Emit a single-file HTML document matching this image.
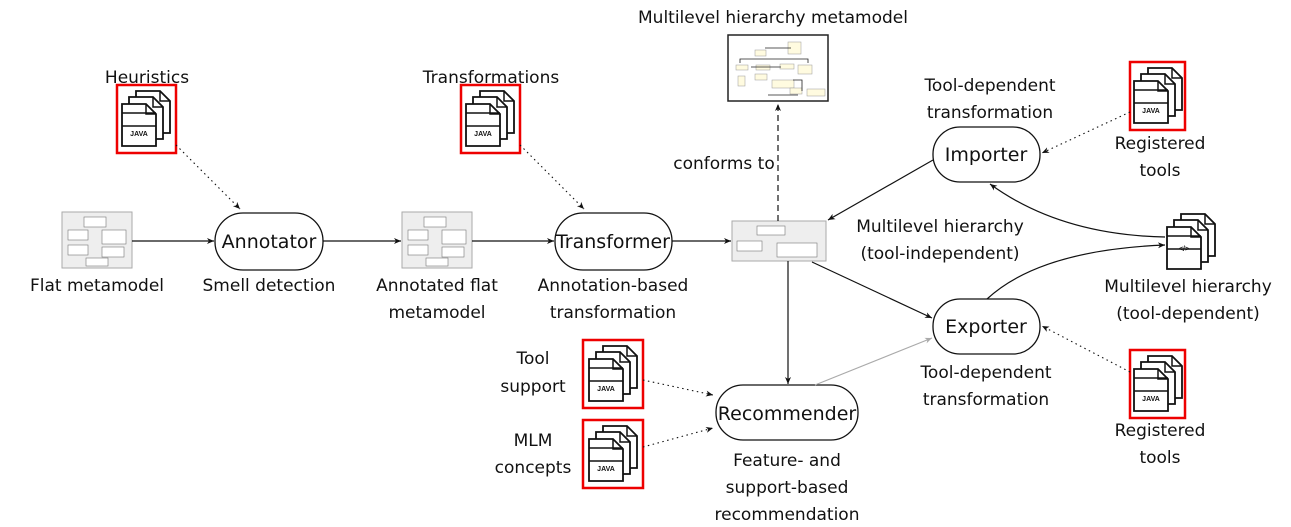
<!DOCTYPE html>
<html><head><meta charset="utf-8"><style>
html,body{margin:0;padding:0;background:#fff}
svg{display:block}
text{font-family:"DejaVu Sans","Liberation Sans",sans-serif;font-size:17px;fill:#111;text-anchor:middle}
.s{font-size:7px;font-weight:bold;font-family:"Liberation Sans",sans-serif}
</style></head><body>
<svg width="1291" height="527" viewBox="0 0 1291 527" xmlns="http://www.w3.org/2000/svg">
<defs>
<g id="pg"><path d="M0,0 H24 L34,10 V42 H0 Z" fill="#fff" stroke="#111" stroke-width="1.8"/><path d="M24,0 V10 H34" fill="none" stroke="#111" stroke-width="1.5"/></g>
<g id="stack"><use href="#pg" x="14" y="0"/><use href="#pg" x="7" y="6"/><use href="#pg" x="0" y="13"/>
<line x1="0" y1="35" x2="34" y2="35" stroke="#111" stroke-width="1.5"/><line x1="0" y1="22" x2="34" y2="22" stroke="#111" stroke-width="1.5"/></g>
<marker id="a" markerWidth="8" markerHeight="8" refX="7" refY="4" orient="auto" markerUnits="userSpaceOnUse"><path d="M0,1 L7,4 L0,7 L2,4Z" fill="#111"/></marker>
<marker id="ag" markerWidth="8" markerHeight="8" refX="7" refY="4" orient="auto" markerUnits="userSpaceOnUse"><path d="M0,1 L7,4 L0,7 L2,4Z" fill="#aaa"/></marker>
<g id="uml"><rect width="70" height="56" fill="#eee" stroke="#aaa"/><g fill="#fff" stroke="#777" stroke-width="0.6"><rect x="22" y="5" width="22" height="10"/><rect x="6" y="18" width="20" height="10"/><rect x="40" y="18" width="24" height="14"/><rect x="6" y="33" width="20" height="10"/><rect x="40" y="35" width="22" height="10"/><rect x="24" y="46" width="22" height="8"/></g></g>
</defs>

<!-- labels top -->
<text x="147" y="83">Heuristics</text>
<text x="491" y="83">Transformations</text>
<text x="773" y="23">Multilevel hierarchy metamodel</text>

<!-- java icons -->
<g transform="translate(117,85)"><rect x="0" y="0" width="59" height="68" fill="none" stroke="#e00" stroke-width="2.5"/><g transform="translate(5,6)"><use href="#stack"/><text class="s" x="17" y="45">JAVA</text></g></g>
<g transform="translate(461,85)"><rect x="0" y="0" width="59" height="68" fill="none" stroke="#e00" stroke-width="2.5"/><g transform="translate(5,6)"><use href="#stack"/><text class="s" x="17" y="45">JAVA</text></g></g>
<g transform="translate(1130,62)"><rect x="0" y="0" width="55" height="68" fill="none" stroke="#e00" stroke-width="2.5"/><g transform="translate(4,6)"><use href="#stack"/><text class="s" x="17" y="45">JAVA</text></g></g>
<g transform="translate(1130,350)"><rect x="0" y="0" width="55" height="68" fill="none" stroke="#e00" stroke-width="2.5"/><g transform="translate(4,6)"><use href="#stack"/><text class="s" x="17" y="45">JAVA</text></g></g>
<g transform="translate(583,340)"><rect x="0" y="0" width="60" height="68" fill="none" stroke="#e00" stroke-width="2.5"/><g transform="translate(6,6)"><use href="#stack"/><text class="s" x="17" y="45">JAVA</text></g></g>
<g transform="translate(583,420)"><rect x="0" y="0" width="60" height="68" fill="none" stroke="#e00" stroke-width="2.5"/><g transform="translate(6,6)"><use href="#stack"/><text class="s" x="17" y="45">JAVA</text></g></g>
<g transform="translate(1167,214)"><use href="#stack"/><text class="s" x="17" y="37">&lt;/&gt;</text></g>

<!-- images -->
<use href="#uml" x="62" y="212"/>
<use href="#uml" x="402" y="212"/>
<g transform="translate(732,221)"><rect width="94" height="40" fill="#eee" stroke="#aaa"/><g fill="#fff" stroke="#777" stroke-width="0.6"><rect x="25" y="5" width="28" height="9"/><rect x="5" y="20" width="25" height="10"/><rect x="45" y="22" width="40" height="14"/></g></g>
<g transform="translate(728,35)"><rect width="100" height="66" fill="#fff" stroke="#222" stroke-width="1.5"/><g fill="#fffbe0" stroke="#999" stroke-width="0.5"><rect x="60" y="7" width="13" height="12"/><rect x="27" y="15" width="11" height="6"/><rect x="8" y="30" width="12" height="5"/><rect x="28" y="30" width="14" height="5"/><rect x="52" y="29" width="14" height="5"/><rect x="70" y="30" width="14" height="9"/><rect x="27" y="39" width="12" height="6"/><rect x="44" y="45" width="22" height="8"/><rect x="62" y="53" width="12" height="6"/><rect x="79" y="54" width="18" height="7"/><rect x="10" y="41" width="7" height="10"/></g><g stroke="#222" stroke-width="0.8" fill="none"><path d="M12,28 V24 H80 V28 M37,13 H63 M23,32 H53 M65,45 H74 V56 M40,60 H70"/></g></g>

<!-- pills -->
<rect x="215" y="213" width="108" height="57" rx="28" fill="#fff" stroke="#111" stroke-width="1.3"/>
<text x="269" y="248" style="font-size:19px">Annotator</text>
<rect x="555" y="213" width="117" height="57" rx="28" fill="#fff" stroke="#111" stroke-width="1.3"/>
<text x="613" y="248" style="font-size:19px">Transformer</text>
<rect x="933" y="127" width="107" height="55" rx="27" fill="#fff" stroke="#111" stroke-width="1.3"/>
<text x="986" y="161" style="font-size:19px">Importer</text>
<rect x="933" y="299" width="107" height="55" rx="27" fill="#fff" stroke="#111" stroke-width="1.3"/>
<text x="986" y="333" style="font-size:19px">Exporter</text>
<rect x="716" y="385" width="142" height="55" rx="27" fill="#fff" stroke="#111" stroke-width="1.3"/>
<text x="787" y="420" style="font-size:19px">Recommender</text>

<!-- text labels -->
<text x="97" y="291">Flat metamodel</text>
<text x="269" y="291">Smell detection</text>
<text x="437" y="291">Annotated flat</text>
<text x="437" y="318">metamodel</text>
<text x="613" y="291">Annotation-based</text>
<text x="613" y="318">transformation</text>
<text x="724" y="169">conforms to</text>
<text x="990" y="91">Tool-dependent</text>
<text x="990" y="118">transformation</text>
<text x="1160" y="149">Registered</text>
<text x="1160" y="176">tools</text>
<text x="940" y="232">Multilevel hierarchy</text>
<text x="940" y="259">(tool-independent)</text>
<text x="1188" y="292">Multilevel hierarchy</text>
<text x="1188" y="319">(tool-dependent)</text>
<text x="986" y="378">Tool-dependent</text>
<text x="986" y="405">transformation</text>
<text x="1160" y="436">Registered</text>
<text x="1160" y="463">tools</text>
<text x="533" y="364">Tool</text>
<text x="533" y="392">support</text>
<text x="533" y="446">MLM</text>
<text x="533" y="473">concepts</text>
<text x="787" y="466">Feature- and</text>
<text x="787" y="493">support-based</text>
<text x="787" y="520">recommendation</text>

<!-- connectors -->
<g stroke="#111" stroke-width="1.2" fill="none" marker-end="url(#a)">
<line x1="132" y1="241" x2="214" y2="241"/>
<line x1="323" y1="241" x2="401" y2="241"/>
<line x1="472" y1="241" x2="554" y2="241"/>
<line x1="672" y1="241" x2="731" y2="241"/>
<line x1="778" y1="221" x2="778" y2="104" stroke-dasharray="6,4"/>
<line x1="788" y1="261" x2="788" y2="384"/>
<line x1="933" y1="160" x2="828" y2="220"/>
<line x1="812" y1="262" x2="932" y2="318"/>
<path d="M987,299 Q1040,250 1165,245"/>
<path d="M1165,237 Q1060,235 990,184"/>
<g stroke-dasharray="1.5,3.5" stroke-width="1.1">
<line x1="176" y1="145" x2="240" y2="209"/>
<line x1="520" y1="145" x2="584" y2="209"/>
<line x1="1130" y1="112" x2="1042" y2="153"/>
<line x1="1130" y1="372" x2="1042" y2="326"/>
<line x1="643" y1="380" x2="713" y2="395"/>
<line x1="643" y1="447" x2="713" y2="428"/>
</g>
</g>
<line x1="815" y1="385" x2="932" y2="338" stroke="#aaa" stroke-width="1.1" marker-end="url(#ag)"/>
</svg>
</body></html>
